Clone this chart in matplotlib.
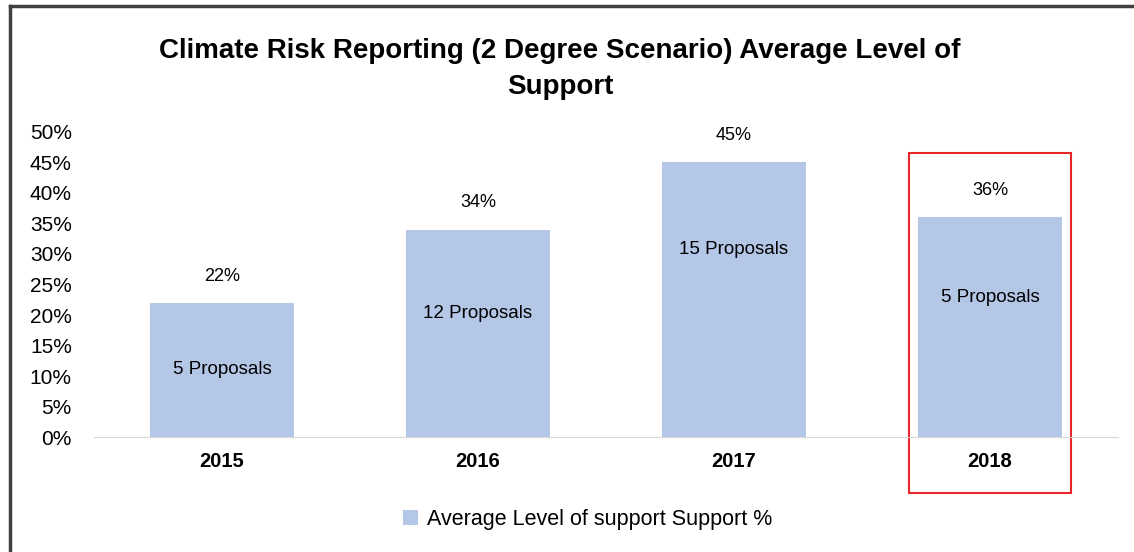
import matplotlib.pyplot as plt
from matplotlib.patches import Rectangle
from matplotlib.lines import Line2D

plt.rcParams['font.family'] = ['Liberation Sans', 'DejaVu Sans']

years = ['2015', '2016', '2017', '2018']
support = [0.22, 0.34, 0.45, 0.36]
proposal_labels = ['5 Proposals', '12 Proposals', '15 Proposals', '5 Proposals']
proposal_label_y = [0.111, 0.203, 0.308, 0.228]
y_ticks = [0.0, 0.05, 0.10, 0.15, 0.20, 0.25, 0.30, 0.35, 0.40, 0.45, 0.50]

bar_color = '#B4C7E7'

fig = plt.figure(figsize=(11.34, 5.52), dpi=100)
ax = fig.add_axes([0.0829, 0.2083, 0.903, 0.5526])

x = range(len(years))
bars = ax.bar(x, support, width=0.566, color=bar_color, label='Average Level of support Support %')

for xi, val in zip(x, support):
    ax.text(xi, val + 0.03, f'{val:.0%}', ha='center', va='bottom', fontsize=13)
for xi, lbl, yl in zip(x, proposal_labels, proposal_label_y):
    ax.text(xi, yl, lbl, ha='center', va='center', fontsize=13.5)

ax.set_xlim(-0.5, 3.5)
ax.set_ylim(0, 0.5)
ax.set_yticks(y_ticks)
ax.set_yticklabels([f'{t:.0%}' for t in y_ticks], fontsize=15)
ax.set_xticks(list(x))
ax.set_xticklabels(years, fontsize=14.5, fontweight='bold')
ax.tick_params(axis='both', length=0)
ax.tick_params(axis='y', pad=16)
ax.tick_params(axis='x', pad=11)

for side in ['top', 'right', 'left']:
    ax.spines[side].set_visible(False)
ax.spines['bottom'].set_color('#D9D9D9')

# red highlight box around 2018
ax.add_patch(Rectangle((2.684, -0.092), 0.632, 0.558, fill=False,
                       edgecolor='#E8262A', linewidth=1.5, clip_on=False))

fig.text(0.494, 0.907, 'Climate Risk Reporting (2 Degree Scenario) Average Level of',
         ha='center', va='center', fontsize=20, fontweight='bold')
fig.text(0.494, 0.843, 'Support', ha='center', va='center', fontsize=20, fontweight='bold')

fig.legend(handles=[bars], loc='center', bbox_to_anchor=(0.518, 0.058), frameon=False,
           fontsize=15.5, handlelength=0.7, handleheight=0.7, handletextpad=0.4)

# outer frame (left and top edges)
fig.add_artist(Line2D([0.0085, 0.0085], [0, 0.989], color='#404040', linewidth=2.5))
fig.add_artist(Line2D([0.0085, 1.0], [0.989, 0.989], color='#404040', linewidth=2.5))

fig.savefig('out.png', dpi=100)
